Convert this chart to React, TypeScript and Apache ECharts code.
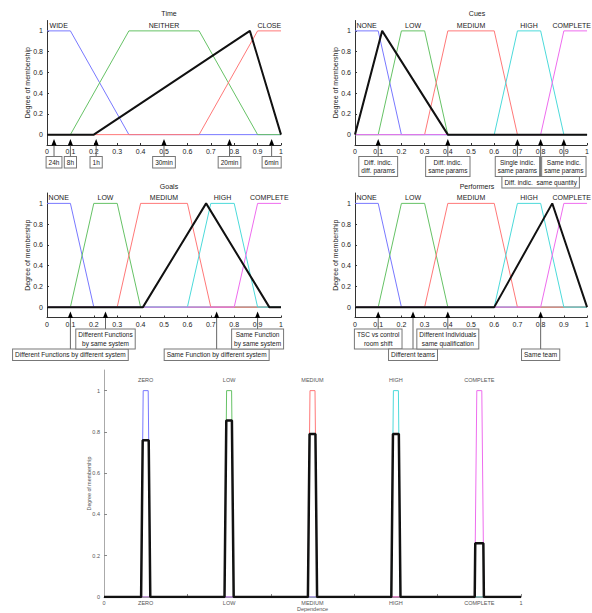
import React, { useEffect, useRef } from "react";
import * as echarts from "echarts";

// ---------- data ----------
const mfColors = ["#7878ff", "#66c266", "#ff7878", "#4cdada", "#ee6cee"];

const timeNames = ["WIDE", "NEITHER", "CLOSE"];
const timeMF = [
  [0, 0, 0.1, 0.35],
  [0.1, 0.35, 0.65, 0.9],
  [0.65, 0.9, 1, 1],
];
const timeInput = [0.2, 0.867, 0.867, 1];
const timeMarks = [0.03, 0.1, 0.21, 0.5, 0.78, 0.96];
const timeMarkLabels = ["24h", "8h", "1h", "30min", "20min", "6min"];
const timeMarkRows = [0, 0, 0, 0, 0, 0];

const fiveNames = ["NONE", "LOW", "MEDIUM", "HIGH", "COMPLETE"];
const fiveMF = [
  [0, 0, 0.1, 0.2],
  [0.1, 0.2, 0.3, 0.4],
  [0.3, 0.4, 0.6, 0.7],
  [0.6, 0.7, 0.8, 0.9],
  [0.8, 0.9, 1, 1],
];

const cuesInput = [0, 0.117, 0.117, 0.4];
const cuesMarks = [0.1, 0.4, 0.7, 0.8, 0.9];
const cuesMarkLabels = [
  "Diff. indic.\ndiff. params",
  "Diff. indic.\nsame params",
  "Single indic.\nsame params",
  "Diff. indic.  same quantity",
  "Same indic.\nsame params",
];
const cuesMarkRows = [0, 0, 0, 1, 0];

const goalsInput = [0.41, 0.68, 0.68, 0.95];
const goalsMarks = [0.1, 0.25, 0.725, 0.9];
const goalsMarkLabels = [
  "Different Functions by different system",
  "Different Functions\nby same system",
  "Same Function by different system",
  "Same Function\nby same system",
];
const goalsMarkRows = [1, 0, 1, 0];

const perfInput = [0.6, 0.85, 0.85, 1];
const perfMarks = [0.1, 0.25, 0.4, 0.8];
const perfMarkLabels = [
  "TSC vs control\nroom shift",
  "Different teams",
  "Different Individuals\nsame qualification",
  "Same team",
];
const perfMarkRows = [0, 1, 0, 1];

const depNames = ["ZERO", "LOW", "MEDIUM", "HIGH", "COMPLETE"];
const depMF = [
  [0.089, 0.094, 0.106, 0.111],
  [0.289, 0.294, 0.306, 0.311],
  [0.489, 0.494, 0.506, 0.511],
  [0.689, 0.694, 0.706, 0.711],
  [0.889, 0.894, 0.906, 0.911],
];
const depLevels = [0.76, 0.855, 0.79, 0.79, 0.26];
const depTickValues = [0, 0.1, 0.3, 0.5, 0.7, 0.9, 1];
const depTickLabels = ["0", "ZERO", "LOW", "MEDIUM", "HIGH", "COMPLETE", "1"];
const depMinorTicks = [0.2, 0.4, 0.6, 0.8, 1];

const yTicks = [0, 0.2, 0.4, 0.6, 0.8, 1];

// ---------- helpers ----------
const FONT = "Liberation Sans, Arial, sans-serif";
const CANVAS_W = 592;

let measureCtx: CanvasRenderingContext2D | null = null;
function textWidth(text: string, size: number) {
  if (!measureCtx) measureCtx = document.createElement("canvas").getContext("2d");
  if (!measureCtx) return text.length * size * 0.6;
  measureCtx.font = `${size}px ${FONT}`;
  return measureCtx.measureText(text).width;
}

function trap(p: number[]) {
  const [a, b, c, d] = p;
  const pts: number[][] = [];
  if (b === 0) pts.push([0, 1]);
  else {
    if (a > 0) pts.push([0, 0]);
    pts.push([a, 0]);
    pts.push([b, 1]);
  }
  if (c < 1) {
    pts.push([c, 1]);
    pts.push([d, 0]);
    if (d < 1) pts.push([1, 0]);
  } else pts.push([1, 1]);
  return pts;
}

function aggregate(mfs: number[][], levels: number[]) {
  const pts: number[][] = [[0, 0]];
  mfs.forEach((p, i) => {
    const [a, b, c, d] = p;
    const h = levels[i];
    pts.push([a, 0], [a + (b - a) * h, h], [d - (d - c) * h, h], [d, 0]);
  });
  pts.push([1, 0]);
  return pts;
}

function fmt(v: number) {
  return String(Math.round(v * 10) / 10);
}

function mfLines(g: number, mfs: number[][], input: number[] | null) {
  const s: any[] = mfs.map((p, i) => ({
    type: "line",
    xAxisIndex: g,
    yAxisIndex: g,
    data: trap(p),
    symbol: "none",
    silent: true,
    lineStyle: { color: mfColors[i], width: 1 },
  }));
  if (input)
    s.push({
      type: "line",
      xAxisIndex: g,
      yAxisIndex: g,
      data: trap(input),
      symbol: "none",
      silent: true,
      lineStyle: { color: "#111", width: 2 },
    });
  return s;
}

function nameLabels(g: number, names: string[], mfs: number[][], y: number, size: number, color: string) {
  return {
    type: "custom",
    xAxisIndex: g,
    yAxisIndex: g,
    silent: true,
    data: mfs.map((p) => [(p[1] + p[2]) / 2, y]),
    renderItem: (params: any, api: any) => {
      const pt = api.coord([api.value(0), api.value(1)]);
      const text = names[params.dataIndex];
      const w = textWidth(text, size);
      const x = Math.min(pt[0], CANVAS_W - 1 - w / 2);
      return {
        type: "text",
        x,
        y: pt[1],
        style: {
          text,
          align: "center",
          verticalAlign: "middle",
          textAlign: "center",
          textVerticalAlign: "middle",
          fontSize: size,
          fontFamily: FONT,
          fill: color,
        },
      };
    },
  };
}

function marks(g: number, xs: number[], labels: string[], rows: number[]) {
  return {
    type: "custom",
    xAxisIndex: g,
    yAxisIndex: g,
    silent: true,
    data: xs.map((x, i) => [x, rows[i]]),
    renderItem: (params: any, api: any) => {
      const p = api.coord([api.value(0), -0.1]);
      const row = api.value(1);
      const top = p[1] + (row === 0 ? 12 : 32);
      return {
        type: "group",
        children: [
          {
            type: "line",
            shape: { x1: p[0], y1: p[1], x2: p[0], y2: top },
            style: { stroke: "#666", lineWidth: 1 },
          },
          {
            type: "polygon",
            shape: {
              points: [
                [p[0], p[1] - 6],
                [p[0] - 2.6, p[1] + 0.5],
                [p[0] + 2.6, p[1] + 0.5],
              ],
            },
            style: { fill: "#000" },
          },
          {
            type: "text",
            x: p[0],
            y: top,
            style: {
              text: labels[params.dataIndex],
              align: "center",
              verticalAlign: "top",
              textAlign: "center",
              textVerticalAlign: "top",
              fontSize: 6.5,
              lineHeight: 8.5,
              fontFamily: FONT,
              fill: "#222",
              backgroundColor: "#fff",
              borderColor: "#777",
              borderWidth: 1,
              padding: [1, 2, 1, 2],
            },
          },
        ],
      };
    },
  };
}

function topX(g: number) {
  return {
    gridIndex: g,
    type: "value",
    min: 0,
    max: 1,
    interval: 0.1,
    axisLine: { onZero: false, lineStyle: { color: "#333", width: 1 } },
    axisTick: { inside: true, length: 2, lineStyle: { color: "#333" } },
    axisLabel: { fontSize: 7, margin: 3, color: "#222", fontFamily: FONT, formatter: fmt },
    splitLine: { show: false },
  };
}

function topY(g: number) {
  return {
    gridIndex: g,
    type: "value",
    min: -0.1,
    max: 1.1,
    axisLine: { show: true, onZero: false, lineStyle: { color: "#333", width: 1 } },
    axisTick: { show: true, inside: true, length: 2, customValues: yTicks, lineStyle: { color: "#333" } },
    axisLabel: { fontSize: 7, margin: 4, color: "#222", fontFamily: FONT, customValues: yTicks, formatter: fmt },
    splitLine: { show: false },
    name: "Degree of membership",
    nameLocation: "middle",
    nameGap: 16.5,
    nameMoveOverlap: false,
    nameTextStyle: { fontSize: 7, color: "#222", fontFamily: FONT },
  };
}

const titleStyle = { fontSize: 7, fontWeight: "normal", color: "#222", fontFamily: FONT };

export default function App() {
  const ref = useRef<HTMLDivElement>(null);
  useEffect(() => {
    document.body.style.margin = "0";
    if (!ref.current) return;
    const chart = echarts.init(ref.current, null, { renderer: "svg" });
    const option: any = {
      animation: false,
      backgroundColor: "#fff",
      textStyle: { fontFamily: FONT },
      title: [
        { text: "Time", left: 164, top: 5, textAlign: "center", textStyle: titleStyle },
        { text: "Cues", left: 472, top: 5, textAlign: "center", textStyle: titleStyle },
        { text: "Goals", left: 164, top: 178, textAlign: "center", textStyle: titleStyle },
        { text: "Performers", left: 472, top: 178, textAlign: "center", textStyle: titleStyle },
      ],
      grid: [
        { left: 47, top: 20.5, width: 234, height: 124.5 },
        { left: 355, top: 20.5, width: 233, height: 124.5 },
        { left: 47, top: 193, width: 234, height: 124.5 },
        { left: 355, top: 193, width: 233, height: 124.5 },
        { left: 104, top: 370, width: 417, height: 228 },
      ],
      xAxis: [
        topX(0),
        topX(1),
        topX(2),
        topX(3),
        {
          gridIndex: 4,
          type: "value",
          min: 0,
          max: 1,
          axisLine: { onZero: false, lineStyle: { color: "#888" } },
          axisTick: { inside: true, length: 3, customValues: depMinorTicks, lineStyle: { color: "#888" } },
          axisLabel: {
            fontSize: 5.5,
            margin: 3,
            color: "#555",
            fontFamily: FONT,
            customValues: depTickValues,
            formatter: (v: number) => {
              const i = depTickValues.findIndex((t) => Math.abs(t - v) < 1e-6);
              return i >= 0 ? depTickLabels[i] : "";
            },
          },
          splitLine: { show: false },
          name: "Dependence",
          nameLocation: "middle",
          nameGap: 9,
          nameMoveOverlap: false,
          nameTextStyle: { fontSize: 5.5, color: "#555", fontFamily: FONT },
        },
      ],
      yAxis: [
        topY(0),
        topY(1),
        topY(2),
        topY(3),
        {
          gridIndex: 4,
          type: "value",
          min: 0,
          max: 1.1,
          axisLine: { show: true, onZero: false, lineStyle: { color: "#aaa" } },
          axisTick: { show: true, inside: true, length: 3, customValues: yTicks, lineStyle: { color: "#888" } },
          axisLabel: { fontSize: 5.5, margin: 4, color: "#555", fontFamily: FONT, customValues: yTicks, formatter: fmt },
          splitLine: { show: false },
          name: "Degree of membership",
          nameLocation: "middle",
          nameGap: 12.5,
          nameMoveOverlap: false,
          nameTextStyle: { fontSize: 5.3, color: "#555", fontFamily: FONT },
        },
      ],
      series: [
        ...mfLines(0, timeMF, timeInput),
        nameLabels(0, timeNames, timeMF, 1.055, 7, "#222"),
        marks(0, timeMarks, timeMarkLabels, timeMarkRows),
        ...mfLines(1, fiveMF, cuesInput),
        nameLabels(1, fiveNames, fiveMF, 1.055, 7, "#222"),
        marks(1, cuesMarks, cuesMarkLabels, cuesMarkRows),
        ...mfLines(2, fiveMF, goalsInput),
        nameLabels(2, fiveNames, fiveMF, 1.055, 7, "#222"),
        marks(2, goalsMarks, goalsMarkLabels, goalsMarkRows),
        ...mfLines(3, fiveMF, perfInput),
        nameLabels(3, fiveNames, fiveMF, 1.055, 7, "#222"),
        marks(3, perfMarks, perfMarkLabels, perfMarkRows),
        ...mfLines(4, depMF, null),
        {
          type: "line",
          xAxisIndex: 4,
          yAxisIndex: 4,
          data: aggregate(depMF, depLevels),
          symbol: "none",
          silent: true,
          lineStyle: { color: "#111", width: 2.5 },
        },
        nameLabels(4, depNames, depMF, 1.05, 5.5, "#555"),
      ],
    };
    chart.setOption(option);
    return () => chart.dispose();
  }, []);
  return <div ref={ref} style={{ width: 592, height: 613 }} />;
}
